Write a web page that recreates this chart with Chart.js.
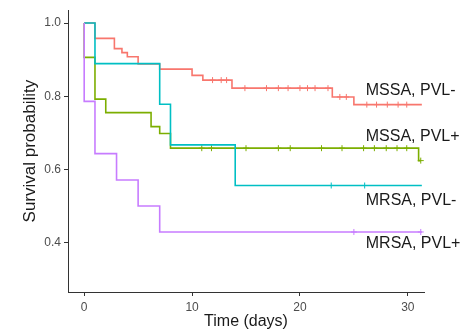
<!DOCTYPE html>
<html>
<head>
<meta charset="utf-8">
<script src="https://cdn.jsdelivr.net/npm/chart.js@4/dist/chart.umd.min.js"></script>
<style>
  html, body { margin: 0; padding: 0; background: #ffffff; }
  #wrap { width: 471px; height: 332px; }
</style>
</head>
<body>
<div id="wrap"><canvas id="c" width="471" height="332"></canvas></div>
<script>
// ---- data ----
const groupNames = ['MSSA, PVL-', 'MSSA, PVL+', 'MRSA, PVL-', 'MRSA, PVL+'];

const mssaNegTimes = [0, 1, 2.8, 3.5, 4, 5, 7, 10, 11, 13.7, 23, 25, 31.3];
const mssaNegSurv  = [1.0, 0.958, 0.930, 0.919, 0.908, 0.888, 0.874, 0.857, 0.844, 0.822, 0.798, 0.777, 0.777];
const mssaNegCensor = [11.9, 12.7, 13.2, 14.9, 16.9, 18, 18.9, 20, 20.7, 21.4, 22.6, 23.7, 24.3, 26.2, 27.1, 28.1, 29.1, 29.9];

const mssaPosTimes = [0, 0, 1, 2, 6.2, 7, 8, 31, 31.2];
const mssaPosSurv  = [1.0, 0.906, 0.792, 0.755, 0.717, 0.698, 0.658, 0.624, 0.624];
const mssaPosCensor = [10.9, 11.8, 15, 18, 19.1, 22, 23.9, 25.9, 26.9, 28, 29, 29.9, 31.2];

const mrsaNegTimes = [0, 1, 7, 8, 14, 31.3];
const mrsaNegSurv  = [1.0, 0.889, 0.778, 0.667, 0.556, 0.556];
const mrsaNegCensor = [22.9, 26];

const mrsaPosTimes = [0, 0, 1, 3, 5, 7, 31.3];
const mrsaPosSurv  = [1.0, 0.786, 0.643, 0.571, 0.5, 0.429, 0.429];
const mrsaPosCensor = [25, 31.2];

const xTickValues = [0, 10, 20, 30];
const yTickValues = [0.4, 0.6, 0.8, 1.0];
const xTitle = 'Time (days)';
const yTitle = 'Survival probability';

// ---- styling ----
const colors = ['#F8766D', '#7CAE00', '#00BFC4', '#C77CFF'];
const labelOffsets = [-14, -12, 15, 12];
const labelDay = 26.1;

const series = [
  { t: mssaNegTimes, s: mssaNegSurv, c: mssaNegCensor },
  { t: mssaPosTimes, s: mssaPosSurv, c: mssaPosCensor },
  { t: mrsaNegTimes, s: mrsaNegSurv, c: mrsaNegCensor },
  { t: mrsaPosTimes, s: mrsaPosSurv, c: mrsaPosCensor }
];

function survAt(times, surv, t) {
  let v = surv[0];
  for (let i = 0; i < times.length; i++) { if (times[i] <= t) v = surv[i]; }
  return v;
}

const datasets = [];
series.forEach((g, i) => {
  datasets.push({
    type: 'line',
    label: groupNames[i],
    data: g.t.map((t, k) => ({ x: t, y: g.s[k] })),
    stepped: 'before',
    borderColor: colors[i],
    borderWidth: 1.6,
    pointRadius: 0,
    fill: false,
    order: 10 - i
  });
  datasets.push({
    type: 'scatter',
    label: groupNames[i] + ' censor',
    data: g.c.map(t => ({ x: t, y: survAt(g.t, g.s, t) })),
    pointStyle: 'cross',
    pointRadius: 3,
    borderColor: colors[i],
    borderWidth: 1,
    backgroundColor: colors[i],
    order: 10 - i
  });
});

const labelPlugin = {
  id: 'curveLabels',
  afterDraw(chart) {
    const ctx = chart.ctx;
    const xs = chart.scales.x, ys = chart.scales.y;
    ctx.save();
    ctx.font = '16px "Liberation Sans", Arial, sans-serif';
    ctx.fillStyle = '#1a1a1a';
    ctx.textAlign = 'left';
    ctx.textBaseline = 'middle';
    series.forEach((g, i) => {
      const x = xs.getPixelForValue(labelDay);
      const y = ys.getPixelForValue(survAt(g.t, g.s, labelDay)) + labelOffsets[i];
      ctx.fillText(groupNames[i], x, y);
    });
    ctx.restore();
  }
};

const axisColor = '#333333';
new Chart(document.getElementById('c'), {
  data: { datasets },
  plugins: [labelPlugin],
  options: {
    responsive: false,
    animation: false,
    devicePixelRatio: 1,
    layout: { padding: { top: 3, right: 47, left: 0, bottom: 0 } },
    plugins: { legend: { display: false }, tooltip: { enabled: false } },
    scales: {
      x: {
        type: 'linear',
        min: -1.5, max: 31.5,
        afterBuildTicks: s => { s.ticks = xTickValues.map(v => ({ value: v })); },
        afterFit: s => { s.height = 40; },
        grid: { display: true, drawOnChartArea: false, drawTicks: true, tickLength: 4, color: axisColor, lineWidth: 1 },
        border: { display: true, color: axisColor, width: 1 },
        ticks: { color: '#4d4d4d', font: { family: '"Liberation Sans", Arial, sans-serif', size: 12 }, padding: 4, maxRotation: 0 },
        title: { display: true, text: xTitle, color: '#1a1a1a', font: { family: '"Liberation Sans", Arial, sans-serif', size: 16 }, padding: { top: 0, bottom: 1 } }
      },
      y: {
        type: 'linear',
        min: 0.265, max: 1.035,
        afterBuildTicks: s => { s.ticks = yTickValues.map(v => ({ value: v })); },
        afterFit: s => { s.width = 68; },
        grid: { display: true, drawOnChartArea: false, drawTicks: true, tickLength: 4, color: axisColor, lineWidth: 1 },
        border: { display: true, color: axisColor, width: 1 },
        ticks: { color: '#4d4d4d', font: { family: '"Liberation Sans", Arial, sans-serif', size: 12 }, padding: 3, callback: v => Number(v).toFixed(1) },
        title: { display: true, text: yTitle, color: '#1a1a1a', font: { family: '"Liberation Sans", Arial, sans-serif', size: 17 }, padding: { top: 20, bottom: 0 } }
      }
    }
  }
});
</script>
</body>
</html>
